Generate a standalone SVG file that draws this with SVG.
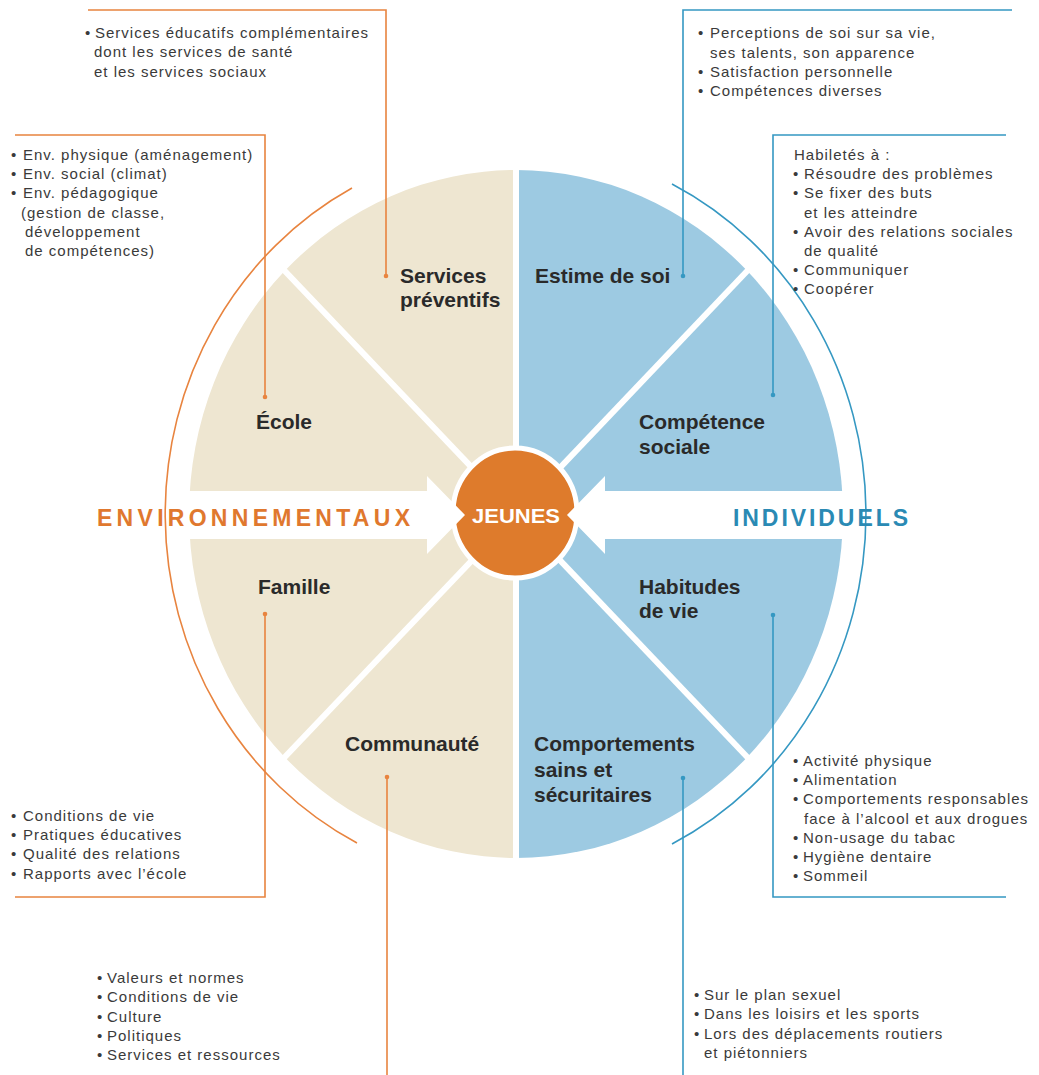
<svg xmlns="http://www.w3.org/2000/svg" width="1039" height="1075" viewBox="0 0 1039 1075">
<defs>
<style>
.lbl{font-family:"Liberation Sans",Arial,sans-serif;font-weight:bold;font-size:21px;fill:#2a2a2a}
.sm{font-family:"Liberation Sans",Arial,sans-serif;font-size:15px;letter-spacing:1px;fill:#3a3a3a}
.co{fill:none;stroke:#e8843f;stroke-width:1.6}
.cb{fill:none;stroke:#3598c2;stroke-width:1.6}
.dO{fill:#e8843f}
.dB{fill:#3598c2}
.sep{stroke:#fff;stroke-width:6}
</style>
</defs>
<rect width="1039" height="1075" fill="#fff"/>
<g id="disk">
<path d="M516 170 A327 344 0 0 0 516 858 Z" fill="#eee6d1"/>
<path d="M516 170 A327 344 0 0 1 516 858 Z" fill="#9dcae2"/>
<line class="sep" x1="516" y1="160" x2="516" y2="868"/>
<line class="sep" x1="282" y1="268" x2="750" y2="760"/>
<line class="sep" x1="750" y1="268" x2="282" y2="760"/>
</g>
<g id="jeunes">
<ellipse cx="515" cy="513" rx="62" ry="65" fill="#de7b2c" stroke="#fff" stroke-width="5"/>
</g>
<g id="arrows">
<polygon points="180,491 427,491 427,476 465,515 427,554 427,539 180,539" fill="#fff"/>
<polygon points="852,491 605,491 605,476 567,515 605,554 605,539 852,539" fill="#fff"/>
</g>
<text x="472" y="523" textLength="88" lengthAdjust="spacingAndGlyphs" style="font-family:'Liberation Sans',Arial,sans-serif;font-weight:bold;font-size:20px;fill:#fff">JEUNES</text>
<g id="arcs">
<path class="co" d="M352 188 A351 369 0 0 0 357 843"/>
<path class="cb" d="M672 184 A351 369 0 0 1 672 844"/>
</g>
<g id="connectors">
<polyline class="co" points="88,10 386,10 386,276"/>
<circle class="dO" cx="386" cy="276" r="2.3"/>
<polyline class="co" points="15,135 265,135 265,397"/>
<circle class="dO" cx="265" cy="397" r="2.3"/>
<polyline class="co" points="265,614 265,897 15,897"/>
<circle class="dO" cx="265" cy="614" r="2.3"/>
<polyline class="co" points="387,777 387,1075"/>
<circle class="dO" cx="387" cy="777" r="2.3"/>
<polyline class="cb" points="683,276 683,10 1012,10"/>
<circle class="dB" cx="683" cy="276" r="2.3"/>
<polyline class="cb" points="773,395 773,135 1006,135"/>
<circle class="dB" cx="773" cy="395" r="2.3"/>
<polyline class="cb" points="773,615 773,897 1006,897"/>
<circle class="dB" cx="773" cy="615" r="2.3"/>
<polyline class="cb" points="683,778 683,1075"/>
<circle class="dB" cx="683" cy="778" r="2.3"/>
</g>
<g id="titles">
<text x="97" y="526" textLength="313" lengthAdjust="spacing" style="font-family:'Liberation Sans',Arial,sans-serif;font-weight:bold;font-size:23px;fill:#e0782e">ENVIRONNEMENTAUX</text>
<text x="733" y="526" textLength="175" lengthAdjust="spacing" style="font-family:'Liberation Sans',Arial,sans-serif;font-weight:bold;font-size:23px;fill:#2a8ab4">INDIVIDUELS</text>
</g>
<g id="n-services">
<text class="lbl"><tspan x="400" y="283">Services</tspan><tspan x="400" y="307">préventifs</tspan></text>
<text class="sm"><tspan x="85" y="38">•</tspan><tspan x="95" y="38">Services éducatifs complémentaires</tspan><tspan x="94" y="57">dont les services de santé</tspan><tspan x="94" y="77">et les services sociaux</tspan></text>
</g>
<g id="n-ecole">
<text class="lbl" x="256" y="429">École</text>
<text class="sm"><tspan x="11" y="160">•</tspan><tspan x="23" y="160">Env. physique (aménagement)</tspan><tspan x="11" y="179">•</tspan><tspan x="23" y="179">Env. social (climat)</tspan><tspan x="11" y="198">•</tspan><tspan x="23" y="198">Env. pédagogique</tspan><tspan x="21" y="218">(gestion de classe,</tspan><tspan x="25" y="237">développement</tspan><tspan x="25" y="256">de compétences)</tspan></text>
</g>
<g id="n-famille">
<text class="lbl" x="258" y="594">Famille</text>
<text class="sm"><tspan x="11" y="821">•</tspan><tspan x="23" y="821">Conditions de vie</tspan><tspan x="11" y="840">•</tspan><tspan x="23" y="840">Pratiques éducatives</tspan><tspan x="11" y="859">•</tspan><tspan x="23" y="859">Qualité des relations</tspan><tspan x="11" y="879">•</tspan><tspan x="23" y="879">Rapports avec l’école</tspan></text>
</g>
<g id="n-communaute">
<text class="lbl" x="345" y="751">Communauté</text>
<text class="sm"><tspan x="97" y="983">•</tspan><tspan x="107" y="983">Valeurs et normes</tspan><tspan x="97" y="1002">•</tspan><tspan x="107" y="1002">Conditions de vie</tspan><tspan x="97" y="1022">•</tspan><tspan x="107" y="1022">Culture</tspan><tspan x="97" y="1041">•</tspan><tspan x="107" y="1041">Politiques</tspan><tspan x="97" y="1060">•</tspan><tspan x="107" y="1060">Services et ressources</tspan></text>
</g>
<g id="n-estime">
<text class="lbl" x="535" y="283">Estime de soi</text>
<text class="sm"><tspan x="698" y="38">•</tspan><tspan x="710" y="38">Perceptions de soi sur sa vie,</tspan><tspan x="710" y="58">ses talents, son apparence</tspan><tspan x="698" y="77">•</tspan><tspan x="710" y="77">Satisfaction personnelle</tspan><tspan x="698" y="96">•</tspan><tspan x="710" y="96">Compétences diverses</tspan></text>
</g>
<g id="n-competence">
<text class="lbl"><tspan x="639" y="429">Compétence</tspan><tspan x="639" y="454">sociale</tspan></text>
<text class="sm"><tspan x="794" y="160">Habiletés à :</tspan><tspan x="793" y="179">•</tspan><tspan x="804" y="179">Résoudre des problèmes</tspan><tspan x="793" y="198">•</tspan><tspan x="804" y="198">Se fixer des buts</tspan><tspan x="804" y="218">et les atteindre</tspan><tspan x="793" y="237">•</tspan><tspan x="804" y="237">Avoir des relations sociales</tspan><tspan x="804" y="256">de qualité</tspan><tspan x="793" y="275">•</tspan><tspan x="804" y="275">Communiquer</tspan><tspan x="793" y="294">•</tspan><tspan x="804" y="294">Coopérer</tspan></text>
</g>
<g id="n-habitudes">
<text class="lbl"><tspan x="639" y="594">Habitudes</tspan><tspan x="639" y="618">de vie</tspan></text>
<text class="sm"><tspan x="793" y="766">•</tspan><tspan x="803" y="766">Activité physique</tspan><tspan x="793" y="785">•</tspan><tspan x="803" y="785">Alimentation</tspan><tspan x="793" y="804">•</tspan><tspan x="803" y="804">Comportements responsables</tspan><tspan x="804" y="824">face à l’alcool et aux drogues</tspan><tspan x="793" y="843">•</tspan><tspan x="803" y="843">Non-usage du tabac</tspan><tspan x="793" y="862">•</tspan><tspan x="803" y="862">Hygiène dentaire</tspan><tspan x="793" y="881">•</tspan><tspan x="803" y="881">Sommeil</tspan></text>
</g>
<g id="n-comportements">
<text class="lbl"><tspan x="534" y="751">Comportements</tspan><tspan x="534" y="777">sains et</tspan><tspan x="534" y="802">sécuritaires</tspan></text>
<text class="sm"><tspan x="694" y="1000">•</tspan><tspan x="704" y="1000">Sur le plan sexuel</tspan><tspan x="694" y="1019">•</tspan><tspan x="704" y="1019">Dans les loisirs et les sports</tspan><tspan x="694" y="1039">•</tspan><tspan x="704" y="1039">Lors des déplacements routiers</tspan><tspan x="704" y="1058">et piétonniers</tspan></text>
</g>
</svg>
